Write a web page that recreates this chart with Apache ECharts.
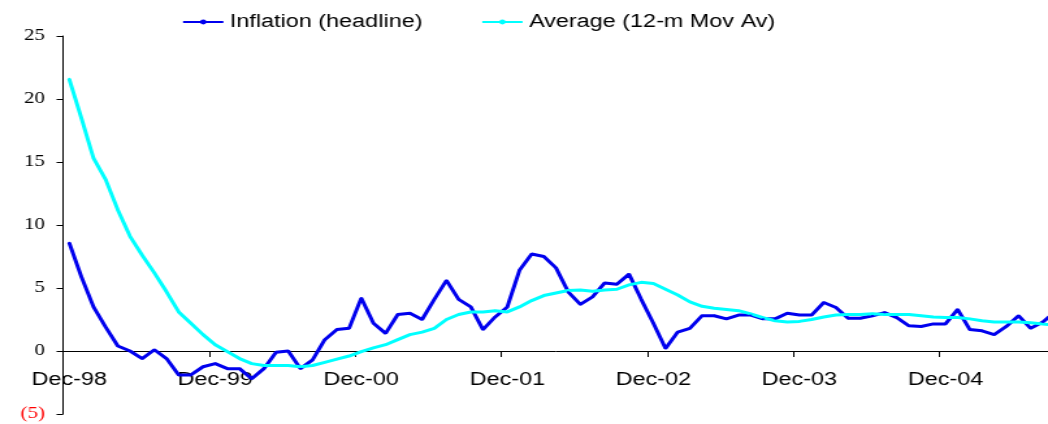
<!DOCTYPE html>
<html>
<head>
<meta charset="utf-8">
<script src="https://cdn.jsdelivr.net/npm/echarts/dist/echarts.min.js"></script>
<style>
  html, body { margin: 0; padding: 0; background: #fff; overflow: hidden; }
  /* the original Excel picture is stretched sideways, so draw narrow and stretch */
  #chart { width: 806px; height: 424px; transform: scaleX(1.3002); transform-origin: 0 0; }
</style>
</head>
<body>
<div id="chart"></div>
<script>
// monthly, Dec-98 .. Sep-05
const months = [
  "Dec-98",
  "Jan-99", "Feb-99", "Mar-99", "Apr-99", "May-99", "Jun-99", "Jul-99", "Aug-99", "Sep-99", "Oct-99", "Nov-99", "Dec-99",
  "Jan-00", "Feb-00", "Mar-00", "Apr-00", "May-00", "Jun-00", "Jul-00", "Aug-00", "Sep-00", "Oct-00", "Nov-00", "Dec-00",
  "Jan-01", "Feb-01", "Mar-01", "Apr-01", "May-01", "Jun-01", "Jul-01", "Aug-01", "Sep-01", "Oct-01", "Nov-01", "Dec-01",
  "Jan-02", "Feb-02", "Mar-02", "Apr-02", "May-02", "Jun-02", "Jul-02", "Aug-02", "Sep-02", "Oct-02", "Nov-02", "Dec-02",
  "Jan-03", "Feb-03", "Mar-03", "Apr-03", "May-03", "Jun-03", "Jul-03", "Aug-03", "Sep-03", "Oct-03", "Nov-03", "Dec-03",
  "Jan-04", "Feb-04", "Mar-04", "Apr-04", "May-04", "Jun-04", "Jul-04", "Aug-04", "Sep-04", "Oct-04", "Nov-04", "Dec-04",
  "Jan-05", "Feb-05", "Mar-05", "Apr-05", "May-05", "Jun-05", "Jul-05", "Aug-05", "Sep-05"
];

const headline = [
  8.6,
  5.9, 3.5, 1.9, 0.4, 0.0, -0.6, 0.1, -0.6, -1.9, -1.9, -1.25, -1.0,
  -1.4, -1.4, -2.2, -1.4, -0.1, 0.0, -1.4, -0.7, 0.9, 1.7, 1.8, 4.2,
  2.2, 1.4, 2.9, 3.0, 2.5, 4.1, 5.6, 4.1, 3.5, 1.7, 2.7, 3.5,
  6.4, 7.7, 7.5, 6.6, 4.7, 3.7, 4.3, 5.4, 5.3, 6.1, 4.1, 2.2,
  0.2, 1.5, 1.8, 2.8, 2.8, 2.55, 2.85, 2.85, 2.55, 2.55, 3.0, 2.85,
  2.85, 3.85, 3.45, 2.6, 2.6, 2.8, 3.05, 2.65, 2.0, 1.95, 2.15, 2.15,
  3.3, 1.7, 1.6, 1.3, 1.95, 2.8, 1.8, 2.3, 3.1
];

const movAvg = [
  21.6,
  18.5, 15.3, 13.6, 11.2, 9.1, 7.6, 6.2, 4.7, 3.1, 2.2, 1.3, 0.5,
  -0.05, -0.6, -1.0, -1.15, -1.15, -1.15, -1.25, -1.15, -0.9, -0.65, -0.4, -0.05,
  0.25, 0.5, 0.9, 1.3, 1.5, 1.8, 2.5, 2.9, 3.1, 3.1, 3.2, 3.1,
  3.5, 4.0, 4.4, 4.6, 4.8, 4.85, 4.75, 4.85, 4.9, 5.25, 5.45, 5.35,
  4.9, 4.45, 3.9, 3.55, 3.4, 3.3, 3.2, 2.95, 2.65, 2.4, 2.3, 2.35,
  2.5, 2.7, 2.85, 2.9, 2.9, 2.95, 2.9, 2.9, 2.9, 2.8, 2.7, 2.65,
  2.65, 2.55, 2.4, 2.3, 2.3, 2.3, 2.25, 2.15, 2.05
];

const sans = "'Liberation Sans', Arial, sans-serif";
const serif = "'Liberation Serif', 'Times New Roman', serif";

const chart = echarts.init(document.getElementById("chart"));

chart.setOption({
  backgroundColor: "#ffffff",
  animation: false,
  textStyle: { fontFamily: sans },
  legend: {
    left: 134.8,
    top: 8,
    itemWidth: 31,
    itemHeight: 6,
    itemGap: 45,
    textStyle: { fontFamily: sans, fontSize: 18, color: "#000" },
    data: ["Inflation (headline)", "Average (12-m Mov Av)"],
  },
  grid: {
    left: 48.5,
    top: 36,
    width: 767.6,
    height: 378,
    containLabel: false,
    outerBoundsMode: "none",
  },
  xAxis: [
    {
      // zero line with the year ticks (labels of an onZero axis get dropped)
      type: "category",
      data: months,
      boundaryGap: true,
      axisLine: { onZero: true, lineStyle: { color: "#000", width: 1 } },
      axisTick: { show: true, interval: 11, length: 6, lineStyle: { color: "#000" } },
      axisLabel: { show: false },
      splitLine: { show: false },
    },
    {
      // year labels, pulled up under the zero line
      type: "category",
      data: months,
      position: "bottom",
      boundaryGap: true,
      axisLine: { show: false, onZero: false },
      axisTick: { show: false },
      axisLabel: { interval: 11, margin: -43, fontFamily: sans, fontSize: 18, color: "#000" },
      splitLine: { show: false },
    },
  ],
  yAxis: {
    type: "value",
    min: -5,
    max: 25,
    interval: 5,
    axisLine: { show: true, lineStyle: { color: "#000", width: 1 } },
    axisTick: { show: true, length: 5, lineStyle: { color: "#000" } },
    axisLabel: {
      margin: 14,
      fontFamily: serif,
      fontSize: 16,
      color: "#000",
      formatter: (v) => (v < 0 ? "{neg|(" + -v + ")}" : String(v)),
      rich: { neg: { color: "#ff0000", fontFamily: serif, fontSize: 16 } },
    },
    splitLine: { show: false },
  },
  series: [
    {
      name: "Inflation (headline)",
      type: "line",
      data: headline,
      symbol: "circle",
      symbolSize: 2,
      lineStyle: { color: "#0000ee", width: 3 },
      itemStyle: { color: "#0000ee" },
    },
    {
      name: "Average (12-m Mov Av)",
      type: "line",
      data: movAvg,
      symbol: "circle",
      symbolSize: 2,
      lineStyle: { color: "#00ffff", width: 3 },
      itemStyle: { color: "#00ffff" },
    },
  ],
});
</script>
</body>
</html>
